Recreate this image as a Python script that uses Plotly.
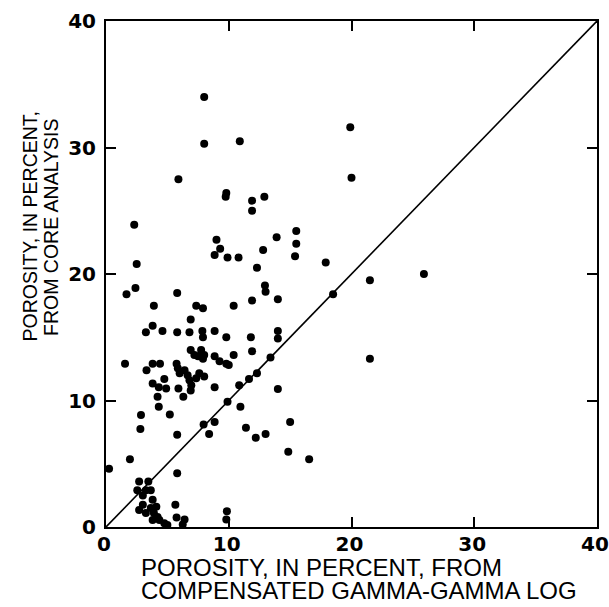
import plotly.graph_objects as go

# Porosity (percent) from the compensated gamma-gamma log
log_porosity = [
    8.0, 8.0, 10.9, 19.9, 20.0, 5.9, 9.8, 9.75, 11.9, 11.9, 12.9, 2.3,
    9.0, 9.3, 8.85, 9.9, 10.8, 12.8, 13.9, 15.5, 15.5, 15.4, 17.9, 2.5,
    12.3, 1.67, 2.4, 5.8, 12.95, 13.0, 11.9, 14.0, 18.5, 3.9, 7.35, 7.9,
    10.4, 6.9, 3.25, 3.8, 4.6, 5.8, 6.8, 7.85, 7.9, 8.85, 9.8, 11.8,
    14.0, 14.0, 11.9, 1.55, 6.9, 7.75, 7.5, 7.9, 7.2, 8.0, 8.85, 9.25,
    9.8, 10.0, 10.4, 13.4, 3.3, 3.8, 4.4, 5.75, 5.85, 6.0, 6.4, 6.65,
    6.8, 6.95, 7.35, 7.6, 8.0, 3.8, 4.3, 4.75, 4.9, 4.2, 4.3, 5.9,
    6.3, 6.9, 8.85, 10.95, 9.9, 2.85, 5.2, 10.85, 11.65, 12.3, 14.0, 15.0,
    11.4, 12.2, 13.0, 14.85, 16.55, 2.8, 7.95, 8.85, 5.8, 8.4, 1.95, 0.25,
    5.8, 21.5, 25.9, 21.5, 5.65, 5.75, 6.4, 6.25, 9.85, 9.8,
    2.7, 3.45, 3.65, 2.55, 3.25, 3.0, 2.7, 3.0, 3.25, 3.65, 3.8, 4.1,
    3.9, 3.8, 4.35, 4.75, 5.0, 4.2,
]

# Porosity (percent) from core analysis
core_porosity = [
    34.0, 30.3, 30.5, 31.6, 27.6, 27.5, 26.4, 26.1, 25.8, 25.0, 26.1, 23.9,
    22.7, 22.0, 21.5, 21.3, 21.3, 21.9, 22.9, 23.4, 22.4, 21.4, 20.9, 20.8,
    20.5, 18.4, 18.9, 18.5, 19.1, 18.6, 17.9, 18.0, 18.4, 17.5, 17.5, 17.3,
    17.5, 16.4, 15.4, 15.9, 15.5, 15.4, 15.4, 15.5, 15.0, 15.5, 15.0, 15.0,
    15.5, 14.9, 13.9, 12.9, 14.0, 14.0, 13.5, 13.3, 13.6, 13.6, 13.5, 13.1,
    12.9, 12.8, 13.6, 13.4, 12.4, 12.9, 12.9, 12.9, 12.55, 12.15, 12.4, 12.0,
    11.6, 11.2, 11.75, 12.15, 11.9, 11.35, 11.05, 11.7, 10.95, 10.3, 9.5, 10.95,
    10.3, 10.8, 11.05, 9.5, 9.9, 8.85, 8.9, 11.2, 11.7, 12.15, 10.9, 8.3,
    7.85, 7.05, 7.35, 5.95, 5.35, 7.75, 8.1, 8.3, 7.3, 7.35, 5.35, 4.6,
    4.25, 19.5, 20.0, 13.3, 1.75, 0.75, 0.6, 0.2, 1.25, 0.6,
    3.6, 3.6, 2.9, 2.9, 2.9, 2.5, 1.35, 1.75, 1.1, 1.5, 2.15, 1.6,
    1.1, 0.55, 0.55, 0.3, 0.15, 0.8,
]

# Line of equal porosity
equal_line = [0, 40]

tick_values = [0, 10, 20, 30, 40]
tick_text = ["0", "10", "20", "30", "40"]

fig = go.Figure()

fig.add_trace(go.Scatter(
    x=equal_line, y=equal_line, mode="lines",
    line=dict(color="black", width=1.6),
    hoverinfo="skip", showlegend=False,
))

fig.add_trace(go.Scatter(
    x=log_porosity, y=core_porosity, mode="markers",
    marker=dict(color="black", size=8, line=dict(width=0)),
    cliponaxis=False, showlegend=False,
))

axis_style = dict(
    range=[0, 40],
    tickvals=tick_values,
    ticktext=tick_text,
    ticks="inside",
    ticklen=10,
    tickwidth=2,
    tickcolor="black",
    showline=True,
    linecolor="black",
    linewidth=2,
    mirror="ticks",
    showgrid=False,
    zeroline=False,
    automargin=False,
    ticklabeloverflow="allow",
    tickfont=dict(family="DejaVu Sans", size=20, color="black", weight="bold"),
    fixedrange=True,
)

fig.update_xaxes(**axis_style, ticklabelstandoff=-2, ticklabelshift=-2)
fig.update_yaxes(**axis_style, ticklabelstandoff=4)

title_font_x = dict(family="Liberation Sans", size=24, color="black")
title_font_y = dict(family="Liberation Sans", size=19.5, color="black")

annotations = [
    dict(text="POROSITY, IN PERCENT, FROM", x=0.0666, y=-0.080,
         xanchor="left", yanchor="middle", font=title_font_x),
    dict(text="COMPENSATED GAMMA-GAMMA LOG", x=0.0666, y=-0.125,
         xanchor="left", yanchor="middle", font=title_font_x),
    dict(text="POROSITY, IN PERCENT,", x=-0.1558, y=0.593, textangle=-90,
         xanchor="center", yanchor="middle", font=title_font_y),
    dict(text="FROM CORE ANALYSIS", x=-0.112, y=0.591, textangle=-90,
         xanchor="center", yanchor="middle", font=title_font_y),
]
for a in annotations:
    a.update(xref="paper", yref="paper", showarrow=False)

fig.update_layout(
    width=609, height=607,
    margin=dict(l=106, r=12, t=21, b=80),
    paper_bgcolor="white",
    plot_bgcolor="white",
    annotations=annotations,
)

fig.write_html("out.html")
